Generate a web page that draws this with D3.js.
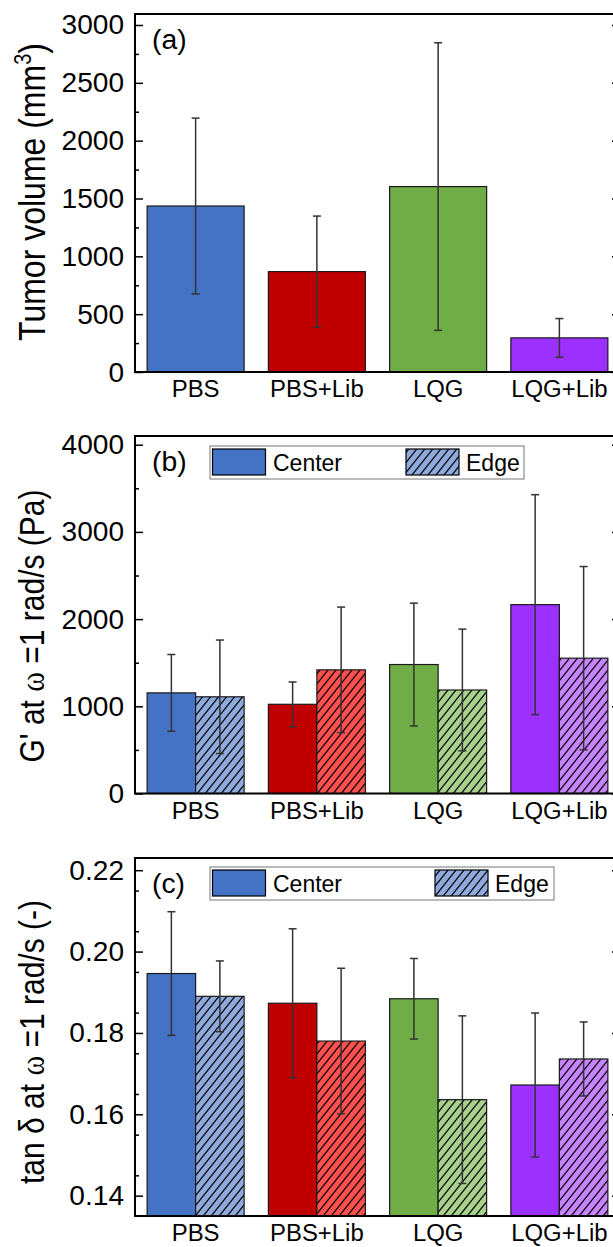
<!DOCTYPE html>
<html>
<head>
<meta charset="utf-8">
<script src="https://cdn.jsdelivr.net/npm/d3@7"></script>
<style>
  body { margin: 0; background: #fff; }
  svg text { font-family: "Liberation Sans", Arial, sans-serif; fill: #000; }
</style>
</head>
<body>
<svg id="chart" width="613" height="1247"></svg>
<script>
const categories = ['PBS', 'PBS+Lib', 'LQG', 'LQG+Lib'];
const centerColors = ['#4472C4', '#C00000', '#70AD47', '#9B30FF'];
const edgeColors = ['#8FAADC', '#FF5050', '#A9D18E', '#C884FF'];

// (a) tumor volume
const tumorMean = [1435, 868, 1603, 295];
const tumorSD = [760, 480, 1243, 167];

// (b) G' at 1 rad/s
const gCenterMean = [1154, 1023, 1479, 2166];
const gCenterSD = [440, 256, 704, 1261];
const gEdgeMean = [1109, 1418, 1187, 1552];
const gEdgeSD = [651, 720, 698, 1051];

// (c) tan delta at 1 rad/s
const tdCenterMean = [0.1946, 0.1873, 0.1884, 0.1672];
const tdCenterSD = [0.0152, 0.0183, 0.0099, 0.0177];
const tdEdgeMean = [0.1890, 0.1780, 0.1636, 0.1736];
const tdEdgeSD = [0.0087, 0.0179, 0.0206, 0.0091];

const ticksA = [0, 500, 1000, 1500, 2000, 2500, 3000];
const ticksB = [0, 1000, 2000, 3000, 4000];
const ticksC = [0.14, 0.16, 0.18, 0.20, 0.22];

const svg = d3.select('#chart');
const left = 135, right = 620;

const x = d3.scaleBand().domain(categories).range([left, right]).paddingInner(0.2).paddingOuter(0.1);

// hatch patterns for the edge bars
const defs = svg.append('defs');
edgeColors.forEach((c, i) => {
  const p = defs.append('pattern')
    .attr('id', 'hatch' + i)
    .attr('patternUnits', 'userSpaceOnUse')
    .attr('width', 8).attr('height', 10);
  p.append('rect').attr('width', 8).attr('height', 10).attr('fill', c);
  p.append('path')
    .attr('d', 'M0,10 L8,0 M-2,2.5 L2,-2.5 M6,12.5 L10,7.5')
    .attr('stroke', '#000').attr('stroke-width', 1.2);
});

function stext(g, tx, ty, str, size, anchor, sx) {
  return g.append('text')
    .attr('transform', `translate(${tx},${ty}) scale(${sx || 1.05},1)`)
    .attr('text-anchor', anchor || 'middle')
    .style('font-size', size + 'px')
    .text(str);
}

function panel(opt) {
  const g = svg.append('g');
  const y = d3.scaleLinear().domain(opt.domain).range([opt.bottom, opt.top]);

  // bars
  opt.series.forEach((s, si) => {
    const n = opt.series.length;
    const bw = x.bandwidth() / n;
    g.selectAll(null)
      .data(categories)
      .join('rect')
        .attr('x', (d, i) => x(d) + si * bw)
        .attr('y', (d, i) => y(s.mean[i]))
        .attr('width', bw)
        .attr('height', (d, i) => opt.bottom - y(s.mean[i]))
        .attr('fill', (d, i) => s.hatch ? `url(#hatch${i})` : centerColors[i])
        .attr('stroke', '#1a1a1a')
        .attr('stroke-width', 1.2);

    const eb = g.selectAll(null)
      .data(categories)
      .join('g')
        .attr('stroke', '#333')
        .attr('stroke-width', 1.5);
    const cx = d => x(d) + si * bw + bw / 2;
    eb.append('line')
      .attr('x1', cx).attr('x2', cx)
      .attr('y1', (d, i) => y(s.mean[i] + s.sd[i]))
      .attr('y2', (d, i) => y(s.mean[i] - s.sd[i]));
    eb.append('line')
      .attr('x1', d => cx(d) - 4).attr('x2', d => cx(d) + 4)
      .attr('y1', (d, i) => y(s.mean[i] + s.sd[i]))
      .attr('y2', (d, i) => y(s.mean[i] + s.sd[i]));
    eb.append('line')
      .attr('x1', d => cx(d) - 4).attr('x2', d => cx(d) + 4)
      .attr('y1', (d, i) => y(s.mean[i] - s.sd[i]))
      .attr('y2', (d, i) => y(s.mean[i] - s.sd[i]));
  });

  // frame
  g.append('rect')
    .attr('x', left).attr('y', opt.top)
    .attr('width', right - left).attr('height', opt.bottom - opt.top)
    .attr('fill', 'none').attr('stroke', '#000').attr('stroke-width', 2);

  // y axes, ticks inward, on both sides
  const minor = d3.range(opt.domain[0], opt.domain[1], opt.minor)
    .map(v => +v.toFixed(4))
    .filter(v => v >= opt.ticks[0] - 1e-9 && !opt.ticks.some(t => Math.abs(t - v) < 1e-9));
  const axL = g.append('g').attr('transform', `translate(${left},0)`)
    .call(d3.axisRight(y).tickValues(opt.ticks).tickSize(8).tickFormat(''));
  const axLm = g.append('g').attr('transform', `translate(${left},0)`)
    .call(d3.axisRight(y).tickValues(minor).tickSize(4).tickFormat(''));
  const axR = g.append('g').attr('transform', `translate(${right},0)`)
    .call(d3.axisLeft(y).tickValues(opt.ticks).tickSize(8).tickFormat(''));
  const axRm = g.append('g').attr('transform', `translate(${right},0)`)
    .call(d3.axisLeft(y).tickValues(minor).tickSize(4).tickFormat(''));
  [axL, axLm, axR, axRm].forEach(a => {
    a.select('.domain').remove();
    a.selectAll('line').attr('stroke', '#000').attr('stroke-width', 1.5);
  });

  // tick labels
  opt.ticks.forEach(t => {
    stext(g, 124, y(t) + 9.5, opt.fmt(t), 27, 'end', 1.04);
  });

  // category labels
  categories.forEach(c => {
    stext(g, x(c) + x.bandwidth() / 2, opt.bottom + 25, c, 23, 'middle', 1.04);
  });

  // panel letter
  stext(g, 152, opt.top + 35, opt.letter, 27, 'start', 1.05);

  // axis title
  const t = g.append('text')
    .attr('transform', `translate(${opt.titleX},${opt.titleY}) scale(1.15,1) rotate(-90)`)
    .attr('text-anchor', 'middle')
    .style('font-size', opt.titleSize + 'px');
  opt.title(t);

  // legend
  if (opt.legend) {
    const L = opt.legend;
    g.append('rect')
      .attr('x', L.x0).attr('y', L.y0).attr('width', L.x1 - L.x0).attr('height', 33)
      .attr('fill', '#fff').attr('stroke', '#777').attr('stroke-width', 1);
    g.append('rect')
      .attr('x', L.x0 + 2.5).attr('y', L.y0 + 3).attr('width', 53).attr('height', 26)
      .attr('fill', centerColors[0]).attr('stroke', '#000').attr('stroke-width', 1.2);
    stext(g, L.x0 + 63, L.y0 + 25, 'Center', 23, 'start', 1.0);
    g.append('rect')
      .attr('x', L.edgeX).attr('y', L.y0 + 3).attr('width', 53).attr('height', 26)
      .attr('fill', 'url(#hatch0)').attr('stroke', '#000').attr('stroke-width', 1.2);
    stext(g, L.edgeX + 60, L.y0 + 25, 'Edge', 23, 'start', 1.0);
  }
}

panel({
  top: 14, bottom: 372, domain: [0, 3095], ticks: ticksA, minor: 250,
  fmt: d3.format('d'), letter: '(a)',
  series: [{mean: tumorMean, sd: tumorSD, hatch: false}],
  titleX: 45, titleY: 192, titleSize: 32,
  title: t => {
    t.append('tspan').text('Tumor volume (mm');
    t.append('tspan').attr('dy', -12).style('font-size', '20px').text('3');
    t.append('tspan').attr('dy', 12).text(')');
  }
});

panel({
  top: 436, bottom: 793.5, domain: [0, 4100], ticks: ticksB, minor: 500,
  fmt: d3.format('d'), letter: '(b)',
  series: [
    {mean: gCenterMean, sd: gCenterSD, hatch: false},
    {mean: gEdgeMean, sd: gEdgeSD, hatch: true}
  ],
  titleX: 44, titleY: 626, titleSize: 30,
  title: t => {
    t.append('tspan').text("G' at ");
    t.append('tspan').style('font-family', '"Liberation Serif", serif').text('\u03C9');
    t.append('tspan').text(' =1 rad/s (Pa)');
  },
  legend: {x0: 210, x1: 524, y0: 446, edgeX: 406}
});

panel({
  top: 858, bottom: 1216, domain: [0.135, 0.223], ticks: ticksC, minor: 0.01,
  fmt: d3.format('.2f'), letter: '(c)',
  series: [
    {mean: tdCenterMean, sd: tdCenterSD, hatch: false},
    {mean: tdEdgeMean, sd: tdEdgeSD, hatch: true}
  ],
  titleX: 44, titleY: 1042, titleSize: 30,
  title: t => {
    t.append('tspan').text('tan \u03B4 at ');
    t.append('tspan').style('font-family', '"Liberation Serif", serif').text('\u03C9');
    t.append('tspan').text(' =1 rad/s (-)');
  },
  legend: {x0: 210, x1: 554, y0: 867, edgeX: 435}
});
</script>
</body>
</html>
